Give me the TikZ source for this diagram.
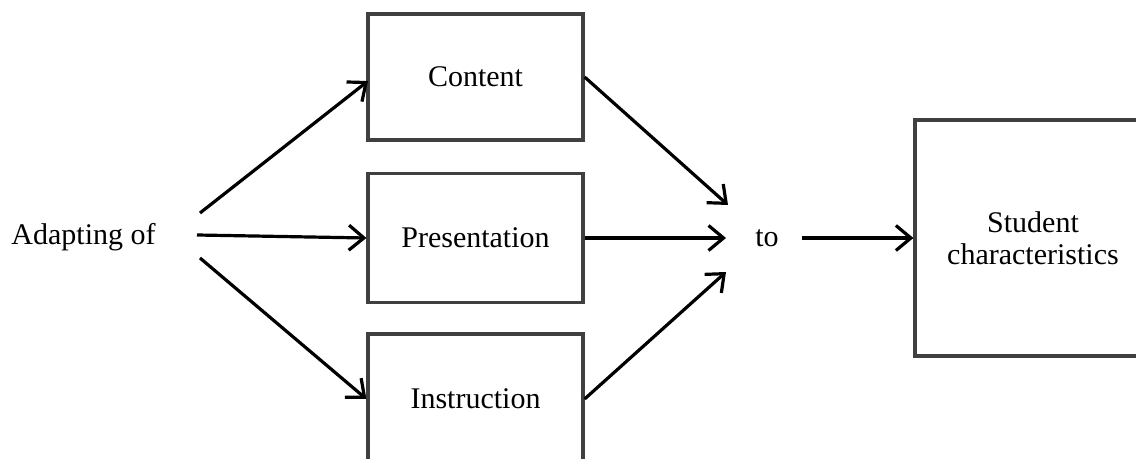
\documentclass[tikz,border=0pt]{standalone}
\usepackage{fontspec}
\setmainfont{Liberation Serif}
\usetikzlibrary{arrows.meta}
\begin{document}
\begin{tikzpicture}[x=0.5pt,y=-0.5pt,
  box/.style={draw=black!75, line width=1.6pt, minimum width=107.5pt, inner sep=0pt, align=center, font=\fontsize{15}{16}\selectfont},
  lbl/.style={inner sep=0pt, font=\fontsize{15}{16}\selectfont},
  arr/.style={line width=1.6pt, -{Straight Barb[length=7.5pt,width=12.5pt,line width=1.6pt]}}]
\clip (0,0) rectangle (1136,459);
\fill[white] (0,0) rectangle (1136,459);
\node[box, minimum height=63pt] (content) at (475.5,77) {Content};
\node[box, minimum height=64.5pt] (pres) at (475.5,238) {Presentation};
\node[box, minimum height=65pt] (instr) at (475.5,399) {Instruction};
\node[box, minimum width=118pt, minimum height=118pt] (student) at (1033,238) {Student\\characteristics};
\node[lbl] (adapt) at (83.5,237) {Adapting of};
\node[lbl] (to) at (767,238) {to};
\coordinate (s1) at (200,213);
\coordinate (s2) at (197,235);
\coordinate (s3) at (200,258);
\coordinate (t1) at (728,205);
\coordinate (t2) at (726,238);
\coordinate (t3) at (726,272);
\coordinate (s4) at (802,238);
\coordinate (c1) at (368,81);
\draw[arr] (s1) -- (c1);
\draw[arr] (s2) -- (pres.west);
\draw[arr] (s3) -- (instr.west);
\draw[arr] (content.east) -- (t1);
\draw[arr] (pres.east) -- (t2);
\draw[arr] (instr.east) -- (t3);
\draw[arr] (s4) -- (student.west);
\end{tikzpicture}
\end{document}
